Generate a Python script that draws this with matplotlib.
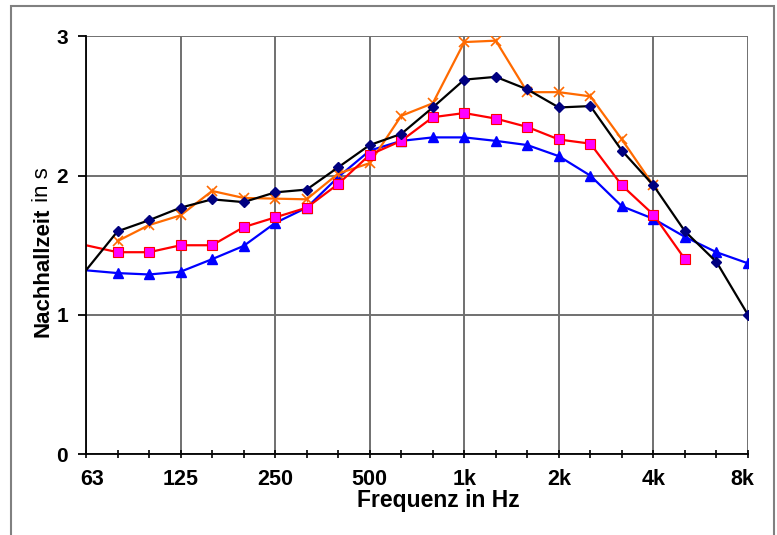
import numpy as np
import matplotlib
matplotlib.use("Agg")
import matplotlib.pyplot as plt
import matplotlib.transforms as mtransforms
from matplotlib.patches import Rectangle

nan = np.nan

# third-octave bands 63 Hz .. 8 kHz
bands = ["63", "80", "100", "125", "160", "200", "250", "315", "400", "500", "630",
         "800", "1k", "1.25k", "1.6k", "2k", "2.5k", "3.15k", "4k", "5k", "6.3k", "8k"]
octave_labels = ["63", "125", "250", "500", "1k", "2k", "4k", "8k"]

# reverberation times in s
t_black = [1.32, 1.60, 1.68, 1.77, 1.83, 1.81, 1.88, 1.90, 2.06, 2.22, 2.30,
           2.49, 2.69, 2.71, 2.62, 2.49, 2.50, 2.18, 1.93, 1.60, 1.38, 1.00]
t_orange = [nan, 1.53, 1.645, 1.715, 1.89, 1.84, 1.835, 1.83, 2.015, 2.09, 2.43,
            2.52, 2.96, 2.97, 2.60, 2.60, 2.57, 2.26, 1.93, nan, nan, nan]
t_red = [1.50, 1.45, 1.45, 1.50, 1.50, 1.63, 1.70, 1.77, 1.94, 2.15, 2.25,
         2.42, 2.45, 2.41, 2.35, 2.26, 2.23, 1.93, 1.72, 1.40, nan, nan]
t_blue = [1.32, 1.30, 1.29, 1.31, 1.40, 1.495, 1.66, 1.77, 1.99, 2.18, 2.25,
          2.275, 2.275, 2.25, 2.22, 2.14, 2.00, 1.78, 1.69, 1.56, 1.45, 1.37]

plt.rcParams["font.family"] = "Liberation Sans"

fig = plt.figure(figsize=(7.77, 5.35), dpi=100)
ax = fig.add_axes([86 / 777, 81 / 535, 662 / 777, 417.5 / 535])

x = np.arange(len(bands))
skip_first = slice(1, None)

ax.plot(x, t_black, color="black", lw=1.6, marker="D", ms=4.8,
        mfc="#000080", mec="#000080", markevery=skip_first, zorder=4)
ax.plot(x, t_orange, color="#FF6A00", lw=1.6, marker="x", ms=6.5, mew=1.2, zorder=3)
ax.plot(x, t_orange, ls="none", color="#FF6A00", marker="|", ms=5, mew=1.0, zorder=3)
ax.plot(x, t_red, color="#FF0000", lw=1.6, marker="s", ms=6.5,
        mfc="#FF00FF", mec="#FF0000", mew=0.8, markevery=skip_first, zorder=3)
ax.plot(x, t_blue, color="#0000FF", lw=1.6, marker="^", ms=6.5,
        mfc="#0000FF", mec="#0000FF", markevery=skip_first, zorder=2)

ax.set_xlim(0, len(bands) - 1)
ax.set_ylim(0, 3)

octave_pos = [bands.index(b) for b in octave_labels]
ax.set_xticks(octave_pos)
ax.set_xticklabels(octave_labels, fontsize=15.5, fontweight="bold")
ax.set_xticks(x, minor=True)
ax.set_yticks([0, 1, 2, 3])
ax.set_yticklabels(["0", "1", "2", "3"], fontsize=15, fontweight="bold")

ax.tick_params(axis="x", which="both", direction="inout", length=6, width=1.2, pad=8)
ax.tick_params(axis="y", direction="out", length=6, width=1.3, pad=7)

ax.grid(True, which="major", color="#707070", lw=1.4)
ax.set_axisbelow(True)
for side in ["top", "right"]:
    ax.spines[side].set_visible(False)
for side in ["left", "bottom"]:
    ax.spines[side].set_linewidth(1.3)
    ax.spines[side].set_zorder(5)

# keep the outermost band labels inside the plot width
labels = ax.get_xticklabels()
labels[0].set_transform(labels[0].get_transform() +
                        mtransforms.ScaledTranslation(6 / 100, 0, fig.dpi_scale_trans))
labels[-1].set_transform(labels[-1].get_transform() +
                         mtransforms.ScaledTranslation(-6 / 100, 0, fig.dpi_scale_trans))

fig.text(438.5 / 777, 28.5 / 535, "Frequenz in Hz", fontsize=16.5, fontweight="bold",
         ha="center", va="baseline")

# y label: bold quantity, regular unit
ylab = fig.text(48.5 / 777, 198 / 535, "Nachhallzeit", fontsize=16, fontweight="bold",
                rotation=90, ha="left", va="baseline", rotation_mode="anchor")
ax.annotate(" in s", xy=(1.0, 1.0), xycoords=ylab, fontsize=16, rotation=90,
            ha="right", va="bottom")

# chart area border
fig.patches.append(Rectangle((11 / 777, -0.05), 763 / 777, 1.05 - 6 / 535,
                             transform=fig.transFigure, fill=False,
                             edgecolor="#808080", lw=1.5))

fig.savefig("out.png", dpi=100)
